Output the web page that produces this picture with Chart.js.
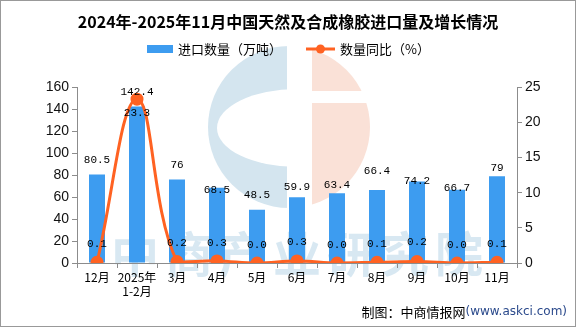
<!DOCTYPE html>
<html>
<head>
<meta charset="utf-8">
<script src="https://cdn.jsdelivr.net/npm/chart.js@4.4.1/dist/chart.umd.min.js"></script>
<style>
  html, body { margin: 0; padding: 0; background: #fff; }
  #wrap { width: 576px; height: 327px; position: relative; }
</style>
</head>
<body>
<div id="wrap"><canvas id="rubberChart"></canvas></div>
<script>
// 月份（横轴）
const months = ['12月', ['2025年', '1-2月'], '3月', '4月', '5月', '6月', '7月', '8月', '9月', '10月', '11月'];
// 进口数量（万吨）
const importVolume = [80.5, 142.4, 76, 68.5, 48.5, 59.9, 63.4, 66.4, 74.2, 66.7, 79];
// 数量同比（%）
const volumeYoY = [0.1, 23.3, 0.2, 0.3, 0.0, 0.3, 0.0, 0.1, 0.2, 0.0, 0.1];
// 坐标轴刻度
const leftTicks = [0, 20, 40, 60, 80, 100, 120, 140, 160];
const rightTicks = [0, 5, 10, 15, 20, 25];

// 标签离柱顶/点的距离（像素）
const barLabelLift = [14, 14, 14, -2, 15, 10, 8, 19, 0, 2, 8];
const lineLabelLift = [18, -14, 18, 18, 18, 19, 18, 18, 19, 18, 18];

const barColor = '#3d9cf0';
const lineColor = '#ff6222';
const axisColor = '#8c8c8c';

// 背景、水印、图例、数值标签、来源
const decor = {
  id: 'decor',
  beforeDraw(chart) {
    const ctx = chart.ctx;
    ctx.save();
    ctx.fillStyle = '#fff';
    ctx.fillRect(0, 0, chart.width, chart.height);

    // 圆形 logo 水印
    const cx = 289, cy = 127, r = 81;
    ctx.fillStyle = '#d4e5ef';
    ctx.beginPath();
    ctx.arc(cx, cy, r, Math.PI / 2, Math.PI * 1.5);
    ctx.lineTo(297, cy - r);
    ctx.lineTo(297, cy + r);
    ctx.closePath();
    ctx.fill();
    ctx.fillStyle = '#fff';
    ctx.beginPath();
    ctx.ellipse(297, 128, 80, 39, 0, 0, Math.PI * 2);
    ctx.fill();
    ctx.fillStyle = '#fae1d7';
    ctx.beginPath();
    ctx.arc(cx, cy, r, -Math.PI / 2, Math.PI / 2);
    ctx.closePath();
    ctx.fill();
    ctx.fillStyle = '#fff';
    ctx.fillRect(cx - 2, cy - r - 2, 25, 2 * r + 4);
    ctx.fillRect(cx, 91, r + 4, 12);

    // 文字水印
    ctx.fillStyle = 'rgba(200, 222, 236, 0.7)';
    ctx.font = 'bold 48px "Noto Sans CJK SC"';
    ctx.textAlign = 'center';
    ctx.textBaseline = 'middle';
    ctx.letterSpacing = '6px';
    ctx.fillText('中商产业研究院', 300, 254);
    ctx.restore();
  },
  afterDatasetsDraw(chart) {
    const ctx = chart.ctx;
    ctx.save();
    ctx.font = '11px "Liberation Mono"';
    ctx.fillStyle = '#000';
    ctx.textAlign = 'center';
    ctx.textBaseline = 'middle';
    chart.getDatasetMeta(0).data.forEach((bar, i) => {
      ctx.fillText(String(importVolume[i]), bar.x, bar.y - barLabelLift[i]);
    });
    chart.getDatasetMeta(1).data.forEach((pt, i) => {
      ctx.fillText(volumeYoY[i].toFixed(1), pt.x, pt.y - lineLabelLift[i]);
    });
    ctx.restore();
  },
  afterDraw(chart) {
    const ctx = chart.ctx;
    ctx.save();
    // 图例
    ctx.font = '13px "Noto Sans CJK SC"';
    ctx.textBaseline = 'middle';
    ctx.textAlign = 'left';
    ctx.fillStyle = barColor;
    ctx.fillRect(147, 45, 26, 8);
    ctx.fillStyle = '#000';
    ctx.fillText('进口数量（万吨）', 178, 49);
    ctx.strokeStyle = lineColor;
    ctx.lineWidth = 3;
    ctx.beginPath();
    ctx.moveTo(306, 49);
    ctx.lineTo(335, 49);
    ctx.stroke();
    ctx.fillStyle = lineColor;
    ctx.beginPath();
    ctx.arc(320.5, 49, 4.5, 0, Math.PI * 2);
    ctx.fill();
    ctx.fillStyle = '#000';
    ctx.fillText('数量同比（%）', 340, 49);

    // 来源
    ctx.textAlign = 'right';
    ctx.font = '12px "DejaVu Sans"';
    ctx.fillStyle = '#2b4a8c';
    ctx.fillText('(www.askci.com)', 567, 312);
    const w = ctx.measureText('(www.askci.com)').width;
    ctx.font = '13px "Noto Sans CJK SC"';
    ctx.fillStyle = '#000';
    ctx.fillText('制图：中商情报网', 567 - w, 312);

    // 外框
    ctx.strokeStyle = '#999';
    ctx.lineWidth = 1;
    ctx.strokeRect(0.5, 0.5, chart.width - 1, chart.height - 1);
    ctx.restore();
  }
};

const el = document.getElementById('rubberChart');
new Chart(el, {
  data: {
    labels: months,
    datasets: [
      {
        type: 'bar',
        label: '进口数量（万吨）',
        data: importVolume,
        backgroundColor: barColor,
        categoryPercentage: 0.8,
        barPercentage: 0.5,
        yAxisID: 'y',
        order: 2
      },
      {
        type: 'line',
        label: '数量同比（%）',
        data: volumeYoY,
        borderColor: lineColor,
        backgroundColor: lineColor,
        borderWidth: 3,
        tension: 0.4,
        pointRadius: 5,
        pointHoverRadius: 5,
        yAxisID: 'y1',
        order: 1
      }
    ]
  },
  options: {
    responsive: true,
    maintainAspectRatio: false,
    animation: false,
    layout: { padding: { top: 0, left: 0, right: 0, bottom: 24 } },
    plugins: {
      legend: { display: false },
      tooltip: { enabled: false },
      title: {
        display: true,
        text: '2024年-2025年11月中国天然及合成橡胶进口量及增长情况',
        color: '#000',
        font: { family: '"Noto Sans CJK SC"', size: 16, weight: 'bold' },
        padding: { top: 12, bottom: 56 }
      }
    },
    scales: {
      x: {
        offset: true,
        grid: { display: true, drawOnChartArea: false, tickLength: 5, color: axisColor },
        border: { color: axisColor },
        ticks: {
          color: '#000',
          font: { family: '"Noto Sans CJK SC"', size: 12 },
          maxRotation: 0,
          autoSkip: false,
          padding: 2
        },
        afterFit(scale) { scale.height = 40; }
      },
      y: {
        position: 'left',
        min: 0,
        max: 160,
        afterBuildTicks(scale) { scale.ticks = leftTicks.map(v => ({ value: v })); },
        grid: { drawOnChartArea: false, tickLength: 5, color: axisColor },
        border: { color: axisColor },
        ticks: { color: '#111', font: { family: '"Liberation Sans"', size: 14 }, padding: 3 },
        afterFit(scale) { scale.width = 77; }
      },
      y1: {
        position: 'right',
        min: 0,
        max: 25,
        afterBuildTicks(scale) { scale.ticks = rightTicks.map(v => ({ value: v })); },
        grid: { drawOnChartArea: false, tickLength: 5, color: axisColor },
        border: { color: axisColor },
        ticks: { color: '#111', font: { family: '"Liberation Sans"', size: 14 }, padding: 3 },
        afterFit(scale) { scale.width = 59; }
      }
    }
  },
  plugins: [decor]
});
</script>
</body>
</html>
